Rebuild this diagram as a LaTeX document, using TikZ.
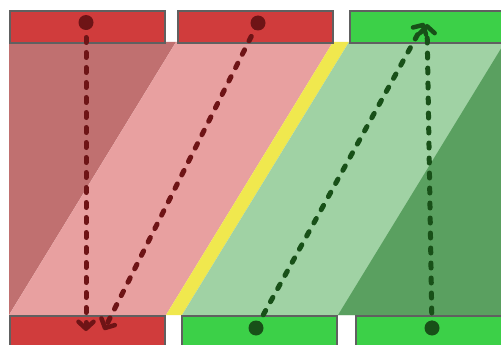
\documentclass[tikz,border=0pt]{standalone}
\usetikzlibrary{arrows.meta}
\definecolor{boxred}{HTML}{D03C3C}
\definecolor{boxgreen}{HTML}{3CD048}
\definecolor{bandred}{HTML}{C07070}
\definecolor{bandpink}{HTML}{E8A0A0}
\definecolor{bandyellow}{HTML}{F0E84E}
\definecolor{bandlgreen}{HTML}{A0D2A4}
\definecolor{banddgreen}{HTML}{5AA060}
\definecolor{arrred}{HTML}{6E1416}
\definecolor{arrgreen}{HTML}{185018}
\definecolor{edgegray}{HTML}{606060}
\tikzset{
  boxbase/.style={draw=edgegray, line width=2pt, rectangle, inner sep=0pt, anchor=north west},
  redbox/.style={boxbase, fill=boxred},
  greenbox/.style={boxbase, fill=boxgreen},
  dotred/.style={circle, fill=arrred, inner sep=0pt, minimum size=15pt},
  dotgreen/.style={circle, fill=arrgreen, inner sep=0pt, minimum size=15pt},
  flow/.style={line width=5pt, line cap=round, dash pattern=on 5pt off 10pt,
    -{Straight Barb[length=7pt,width=15pt,round,line width=4.5pt]}},
}
\begin{document}
\begin{tikzpicture}[x=1pt,y=-1pt]
\useasboundingbox (0,0) rectangle (501,345);
\clip (0,0) rectangle (501,345);
\fill[white] (0,0) rectangle (501,345);
% bands
\fill[bandred] (9,42) -- (176,42) -- (9,315) -- cycle;
\fill[bandpink] (176,42) -- (333,42) -- (166,315) -- (9,315) -- cycle;
\fill[bandyellow] (333,42) -- (349,42) -- (182,315) -- (166,315) -- cycle;
\fill[bandlgreen] (349,42) -- (510,42) -- (510,315) -- (182,315) -- cycle;
\fill[banddgreen] (505,42) -- (510,42) -- (510,315) -- (338,315) -- cycle;
% boxes
\node[redbox, minimum width=155pt, minimum height=32pt] (t1) at (9,10) {};
\node[redbox, minimum width=155pt, minimum height=32pt] (t2) at (177,10) {};
\node[greenbox, minimum width=170pt, minimum height=32pt] (t3) at (349,10) {};
\node[redbox, minimum width=155pt, minimum height=40pt] (b1) at (9,315) {};
\node[greenbox, minimum width=155pt, minimum height=40pt] (b2) at (181,315) {};
\node[greenbox, minimum width=160pt, minimum height=40pt] (b3) at (355,315) {};
% dots and tips
\node[dotred] (d1) at (86,22.5) {};
\node[dotred] (d2) at (258,23) {};
\node[dotgreen] (d3) at (256,328) {};
\node[dotgreen] (d4) at (432,328) {};
\coordinate (e1) at (86,331);
\coordinate (e2) at (104,330);
\coordinate (e3) at (424,23);
\coordinate (e4) at (427,24);
% arrows
\draw[flow, arrred] (d1.center) -- (e1);
\draw[flow, arrred] (d2.center) -- (e2);
\draw[flow, arrgreen] (d3.center) -- (e3);
\draw[flow, arrgreen] (d4.center) -- (e4);
\end{tikzpicture}
\end{document}
